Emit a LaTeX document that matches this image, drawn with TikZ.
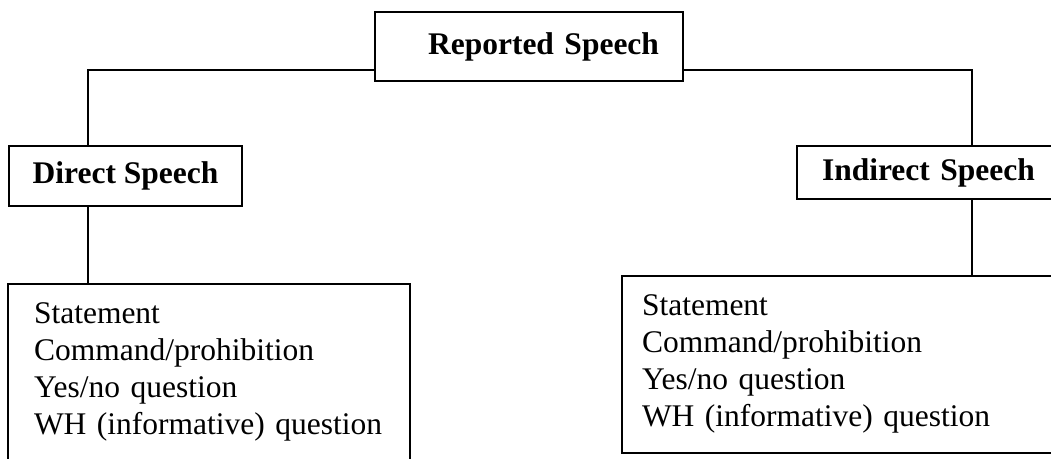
\documentclass[tikz,border=0pt]{standalone}
\usepackage{fontspec}
\setmainfont{Liberation Serif}

\begin{document}
\begin{tikzpicture}[x=0.5pt,y=-0.5pt,line width=1pt,
	head/.style={draw,font=\fontsize{15.75}{18.5}\selectfont\bfseries},
	list/.style={draw,font=\fontsize{15.75}{18.5}\selectfont,align=left,anchor=north west,inner ysep=9.5pt}]
	\useasboundingbox (0,0) rectangle (1051,459);
	\clip (0,0) rectangle (1051,459);
	% header boxes
	\node (rep) [head,anchor=east,minimum height=34.5pt,inner xsep=12pt,text width=130pt,align=right] at (684,46.5) {Reported Speech};
	\node (direct) [head,minimum width=116.5pt,minimum height=30pt] at (125.5,176) {Direct Speech};
	\node (indirect) [head,anchor=west,minimum height=26.5pt,inner xsep=12.5pt,text width=140pt,align=left] at (796,172.5) {Indirect Speech};
	% lists
	\node (dlist) [list,inner xsep=13pt,text width=175pt] at (7,283) {Statement\\Command/prohibition\\Yes/no question\\WH (informative) question};
	\node (ilist) [list,inner xsep=10pt,text width=200pt] at (621,275) {Statement\\Command/prohibition\\Yes/no question\\WH (informative) question};
	% connectors
	\coordinate (bar) at (0,70);
	\coordinate (ltap) at (88,0);
	\coordinate (rtap) at (972,0);
	\draw (ltap |- direct.north) |- (rep.west |- bar);
	\draw (rep.east |- bar) -| (rtap |- indirect.north);
	\draw (ltap |- direct.south) -- (ltap |- dlist.north);
	\draw (rtap |- indirect.south) -- (rtap |- ilist.north);
\end{tikzpicture}
\end{document}
